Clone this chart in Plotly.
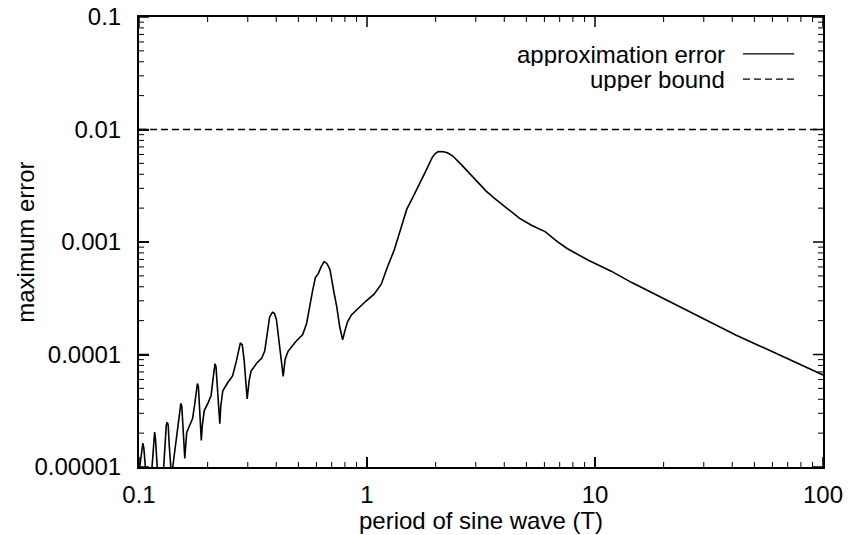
import plotly.graph_objects as go

# Period of the sine wave (T)
period = [
    0.1000, 0.1020, 0.1030, 0.1040, 0.1050, 0.1071, 0.1136, 0.1159, 0.1171, 0.1182,
    0.1206, 0.1279, 0.1304, 0.1317, 0.1330, 0.1343, 0.1357, 0.1384, 0.1397, 0.1425,
    0.1453, 0.1482, 0.1511, 0.1526, 0.1541, 0.1557, 0.1588, 0.1603, 0.1619, 0.1668,
    0.1718, 0.1752, 0.1787, 0.1804, 0.1822, 0.1840, 0.1876, 0.1895, 0.1933, 0.2011,
    0.2071, 0.2113, 0.2134, 0.2154, 0.2176, 0.2218, 0.2262, 0.2285, 0.2331, 0.2448,
    0.2572, 0.2675, 0.2755, 0.2783, 0.2838, 0.2894, 0.2981, 0.3040, 0.3100, 0.3289,
    0.3455, 0.3559, 0.3665, 0.3738, 0.3850, 0.3926, 0.4004, 0.4124, 0.4290, 0.4375,
    0.4506, 0.4875, 0.5223, 0.5433, 0.5596, 0.5763, 0.5936, 0.6114, 0.6297, 0.6486,
    0.6680, 0.6881, 0.7155, 0.7370, 0.7591, 0.7819, 0.7976, 0.8214, 0.8543, 0.9243,
    0.9902, 1.0746, 1.1548, 1.2283, 1.3198, 1.4040, 1.4932, 1.5882, 1.6719, 1.7966,
    1.9307, 1.9912, 2.0535, 2.1618, 2.2525, 2.3714, 2.5746, 2.7959, 3.0661, 3.3302,
    3.6145, 3.9649, 4.3046, 4.6744, 5.2887, 6.0413, 6.8372, 7.5775, 9.3057, 11.772,
    14.430, 17.693, 21.693, 26.597, 33.279, 41.645, 51.053, 62.591, 79.101, 100.0,
]

# Maximum approximation error at each period
max_error = [
    9.0e-6, 1.278e-5, 1.568e-5, 1.633e-5, 1.474e-5, 9.0e-6, 9.0e-6, 1.733e-5, 2.041e-5, 1.733e-5,
    9.0e-6, 9.0e-6, 1.730e-5, 2.353e-5, 2.499e-5, 2.350e-5, 1.560e-5, 9.0e-6, 9.0e-6, 1.270e-5,
    1.726e-5, 2.345e-5, 3.320e-5, 3.677e-5, 3.457e-5, 2.343e-5, 1.192e-5, 1.555e-5, 2.029e-5, 2.340e-5,
    2.700e-5, 3.521e-5, 4.985e-5, 5.521e-5, 5.191e-5, 3.518e-5, 1.718e-5, 2.335e-5, 3.172e-5, 3.735e-5,
    4.307e-5, 6.099e-5, 7.795e-5, 8.287e-5, 7.793e-5, 4.766e-5, 2.424e-5, 3.503e-5, 4.763e-5, 5.603e-5,
    6.461e-5, 8.777e-5, 1.192e-4, 1.268e-4, 1.216e-4, 8.765e-5, 4.023e-5, 5.815e-5, 7.132e-5, 8.393e-5,
    9.290e-5, 1.072e-4, 1.613e-4, 2.147e-4, 2.377e-4, 2.328e-4, 2.058e-4, 1.311e-4, 6.400e-5, 9.063e-5,
    1.067e-4, 1.307e-4, 1.507e-4, 1.886e-4, 2.669e-4, 3.626e-4, 4.827e-4, 5.236e-4, 6.039e-4, 6.686e-4,
    6.414e-4, 5.670e-4, 3.612e-4, 2.656e-4, 1.763e-4, 1.350e-4, 1.589e-4, 1.950e-4, 2.248e-4, 2.645e-4,
    2.987e-4, 3.441e-4, 4.218e-4, 5.967e-4, 8.616e-4, 1.296e-3, 1.949e-3, 2.489e-3, 3.051e-3, 4.143e-3,
    5.625e-3, 6.102e-3, 6.353e-3, 6.349e-3, 6.214e-3, 5.839e-3, 4.951e-3, 4.111e-3, 3.413e-3, 2.835e-3,
    2.454e-3, 2.122e-3, 1.837e-3, 1.622e-3, 1.402e-3, 1.237e-3, 1.006e-3, 8.705e-4, 6.925e-4, 5.505e-4,
    4.380e-4, 3.556e-4, 2.888e-4, 2.345e-4, 1.865e-4, 1.483e-4, 1.229e-4, 1.019e-4, 8.266e-5, 6.576e-5,
]

# Constant upper bound on the error
bound_period = [0.1, 100.0]
bound_error = [0.01, 0.01]

# Axis ticks
x_tickvals = [0.1, 1, 10, 100]
x_ticktext = ["0.1", "1", "10", "100"]
y_tickvals = [0.00001, 0.0001, 0.001, 0.01, 0.1]
y_ticktext = ["0.00001", "0.0001", "0.001", "0.01", "0.1"]
# minor ticks at 2..9 of each decade
x_minor = [m * 10.0 ** e for e in range(-1, 2) for m in range(2, 10)]
y_minor = [m * 10.0 ** e for e in range(-5, -1) for m in range(2, 10)]

series_names = ["approximation error", "upper bound"]

FONT = "Liberation Sans, Arial, Helvetica, sans-serif"
FS = 24
BOUND_DASH = "7px,4px"
X_LO, X_HI = 0.1, 100.0
Y_LO, Y_HI = 1e-5, 0.1
PX_PER_DECADE_X = 228.0
PX_PER_DECADE_Y = 112.5
MAJOR_LEN, MINOR_LEN = 10, 5

fig = go.Figure()
fig.add_trace(go.Scatter(
    x=period, y=max_error, mode="lines", name=series_names[0],
    line=dict(color="black", width=1.6), showlegend=False,
))
fig.add_trace(go.Scatter(
    x=bound_period, y=bound_error, mode="lines", name=series_names[1],
    line=dict(color="black", width=1.4, dash=BOUND_DASH), showlegend=False,
))


def tick_path(xvals, yvals, length):
    """Inward tick segments on all four sides, as one None-separated path."""
    fx = 10 ** (length / PX_PER_DECADE_X)
    fy = 10 ** (length / PX_PER_DECADE_Y)
    xs, ys = [], []
    for v in xvals:
        xs += [v, v, None, v, v, None]
        ys += [Y_LO, Y_LO * fy, None, Y_HI, Y_HI / fy, None]
    for w in yvals:
        xs += [X_LO, X_LO * fx, None, X_HI, X_HI / fx, None]
        ys += [w, w, None, w, w, None]
    return xs, ys


for xv, yv, length, width in ((x_tickvals, y_tickvals, MAJOR_LEN, 1.5),
                              (x_minor, y_minor, MINOR_LEN, 1.0)):
    tx, ty = tick_path(xv, yv, length)
    fig.add_trace(go.Scatter(
        x=tx, y=ty, mode="lines", line=dict(color="black", width=width),
        hoverinfo="skip", showlegend=False, connectgaps=False,
    ))

axis_common = dict(
    type="log", showline=True, linecolor="black", linewidth=2, mirror=True,
    ticks="inside", ticklen=MAJOR_LEN, tickwidth=1.5, tickcolor="black",
    showgrid=False, zeroline=False, automargin=False,
    tickfont=dict(family=FONT, size=FS, color="black"),
)
fig.update_xaxes(range=[-1, 2], tickvals=x_tickvals, ticktext=x_ticktext,
                 ticklabelstandoff=5, **axis_common)
fig.update_yaxes(range=[-5, -1], tickvals=y_tickvals, ticktext=y_ticktext,
                 ticklabelstandoff=11, **axis_common)

# Axis titles
fig.add_annotation(
    x=0.5, y=-0.118, xref="paper", yref="paper", xanchor="center", yanchor="middle",
    text="period of sine wave (T)", showarrow=False,
    font=dict(family=FONT, size=FS, color="black"),
)
fig.add_annotation(
    x=-0.167, y=0.5, xref="paper", yref="paper", xanchor="center", yanchor="middle",
    text="maximum error", textangle=-90, showarrow=False,
    font=dict(family=FONT, size=FS, color="black"),
)

# Key in the top-right corner: label first, line sample after it
key_rows = [(0.918, None), (0.862, BOUND_DASH)]
for (ypos, dash), name in zip(key_rows, series_names):
    fig.add_annotation(
        x=0.86, y=ypos, xref="paper", yref="paper", xanchor="right", yanchor="middle",
        text=name, showarrow=False, height=24,
        font=dict(family=FONT, size=FS, color="black"),
    )
    fig.add_shape(
        type="line", xref="paper", yref="paper", x0=0.883, x1=0.958, y0=ypos, y1=ypos,
        line=dict(color="black", width=1.2, dash=dash),
    )

fig.update_layout(
    width=851, height=535,
    margin=dict(l=139, r=28, t=17, b=68),
    paper_bgcolor="white", plot_bgcolor="white",
    font=dict(family=FONT, size=FS, color="black"),
)

fig.write_html("out.html")
